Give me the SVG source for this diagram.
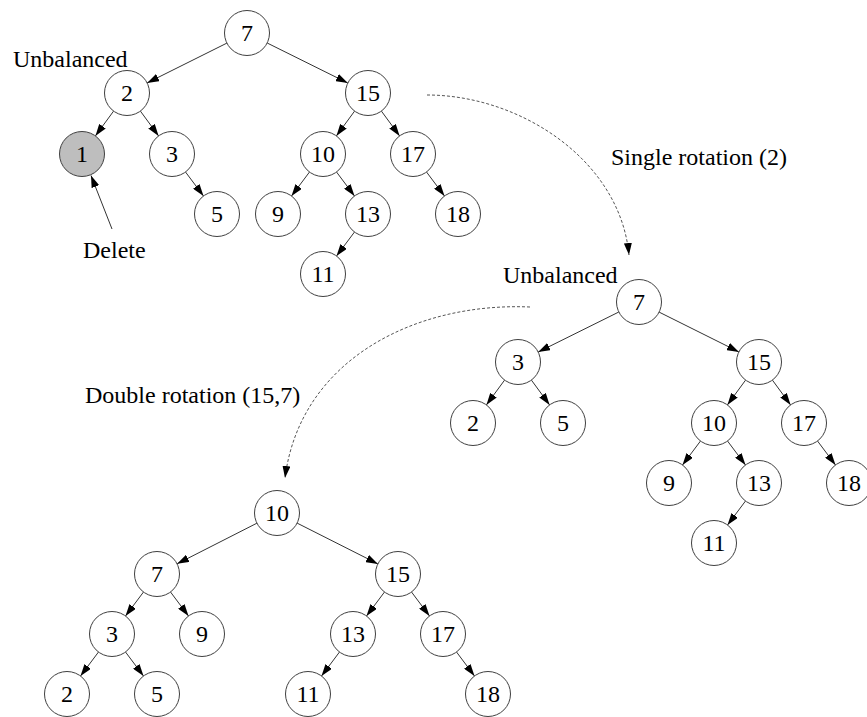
<svg xmlns="http://www.w3.org/2000/svg" width="867" height="717" viewBox="0 0 867 717">
<style>
.n circle{fill:#fff;stroke:#404040;stroke-width:1}
.n text,.lbl{font-family:"Liberation Serif","Times New Roman",serif;font-size:24px;fill:#000}
.n text{text-anchor:middle}
.e line,.e path{stroke:#333;stroke-width:1;fill:none}
.e line{marker-end:url(#ah)}
.e path.d{stroke:#555;stroke-dasharray:3,2;marker-end:url(#ah)}
</style>
<defs>
<marker id="ah" markerUnits="userSpaceOnUse" markerWidth="12" markerHeight="8" viewBox="0 0 12 8" refX="12" refY="4" orient="auto">
<path d="M0,0 L12,4 L0,8 z" fill="#000"/>
</marker>
</defs>
<rect width="867" height="717" fill="#fff"/>
<g id="connectors" class="e">
<line x1="226.9" y1="43.1" x2="147.1" y2="82.9"/>
<line x1="267.2" y1="43.0" x2="347.8" y2="83.0"/>
<line x1="113.6" y1="111.1" x2="95.4" y2="135.9"/>
<line x1="140.4" y1="111.1" x2="158.6" y2="135.9"/>
<line x1="185.5" y1="172" x2="203.5" y2="196"/>
<line x1="354.6" y1="111.1" x2="336.4" y2="135.9"/>
<line x1="381.4" y1="111.1" x2="399.6" y2="135.9"/>
<line x1="309.5" y1="172" x2="291.5" y2="196"/>
<line x1="336.5" y1="172" x2="354.5" y2="196"/>
<line x1="426.5" y1="172" x2="444.5" y2="196"/>
<line x1="354.5" y1="232" x2="336.5" y2="256"/>
<line x1="112" y1="229" x2="91" y2="175.5"/>
<line x1="618.8" y1="312.0" x2="538.2" y2="352.0"/>
<line x1="659.1" y1="312.1" x2="738.9" y2="351.9"/>
<line x1="504.6" y1="380.1" x2="486.4" y2="404.9"/>
<line x1="531.4" y1="380.1" x2="549.6" y2="404.9"/>
<line x1="745.6" y1="380.1" x2="727.4" y2="404.9"/>
<line x1="772.4" y1="380.1" x2="790.6" y2="404.9"/>
<line x1="700.5" y1="441" x2="682.5" y2="465"/>
<line x1="727.5" y1="441" x2="745.5" y2="465"/>
<line x1="817.5" y1="441" x2="835.5" y2="465"/>
<line x1="745.5" y1="501" x2="727.5" y2="525"/>
<line x1="256.9" y1="523.2" x2="177.1" y2="563.8"/>
<line x1="297.1" y1="523.1" x2="377.9" y2="563.9"/>
<line x1="143.5" y1="592" x2="125.5" y2="616"/>
<line x1="170.5" y1="592" x2="188.5" y2="616"/>
<line x1="98.5" y1="652" x2="80.5" y2="676"/>
<line x1="125.5" y1="652" x2="143.5" y2="676"/>
<line x1="384.5" y1="592" x2="366.5" y2="616"/>
<line x1="411.5" y1="592" x2="429.5" y2="616"/>
<line x1="339.5" y1="652" x2="321.5" y2="676"/>
<line x1="456.5" y1="652" x2="474.5" y2="676"/>
<path class="d" d="M427,95 C520,95 620,160 629,255"/>
<path class="d" d="M530,307 C415,302 300,360 285,478"/>
</g>
<g id="labels">
<text class="lbl" x="13" y="67">Unbalanced</text>
<text class="lbl" x="83" y="258">Delete</text>
<text class="lbl" x="611" y="165">Single rotation (2)</text>
<text class="lbl" x="503" y="283">Unbalanced</text>
<text class="lbl" x="85" y="403">Double rotation (15,7)</text>
</g>
<g id="tree1">
<g id="t1-7" class="n"><circle cx="247" cy="33" r="22.5"/><text x="247" y="41">7</text></g>
<g id="t1-2" class="n"><circle cx="127" cy="93" r="22.5"/><text x="127" y="101">2</text></g>
<g id="t1-15" class="n"><circle cx="368" cy="93" r="22.5"/><text x="368" y="101">15</text></g>
<g id="t1-1" class="n"><circle cx="82" cy="154" r="22.5" style="fill:#bebebe"/><text x="82" y="162">1</text></g>
<g id="t1-3" class="n"><circle cx="172" cy="154" r="22.5"/><text x="172" y="162">3</text></g>
<g id="t1-10" class="n"><circle cx="323" cy="154" r="22.5"/><text x="323" y="162">10</text></g>
<g id="t1-17" class="n"><circle cx="413" cy="154" r="22.5"/><text x="413" y="162">17</text></g>
<g id="t1-5" class="n"><circle cx="217" cy="214" r="22.5"/><text x="217" y="222">5</text></g>
<g id="t1-9" class="n"><circle cx="278" cy="214" r="22.5"/><text x="278" y="222">9</text></g>
<g id="t1-13" class="n"><circle cx="368" cy="214" r="22.5"/><text x="368" y="222">13</text></g>
<g id="t1-18" class="n"><circle cx="458" cy="214" r="22.5"/><text x="458" y="222">18</text></g>
<g id="t1-11" class="n"><circle cx="323" cy="274" r="22.5"/><text x="323" y="282">11</text></g>
</g>
<g id="tree2">
<g id="t2-7" class="n"><circle cx="639" cy="302" r="22.5"/><text x="639" y="310">7</text></g>
<g id="t2-3" class="n"><circle cx="518" cy="362" r="22.5"/><text x="518" y="370">3</text></g>
<g id="t2-15" class="n"><circle cx="759" cy="362" r="22.5"/><text x="759" y="370">15</text></g>
<g id="t2-2" class="n"><circle cx="473" cy="423" r="22.5"/><text x="473" y="431">2</text></g>
<g id="t2-5" class="n"><circle cx="563" cy="423" r="22.5"/><text x="563" y="431">5</text></g>
<g id="t2-10" class="n"><circle cx="714" cy="423" r="22.5"/><text x="714" y="431">10</text></g>
<g id="t2-17" class="n"><circle cx="804" cy="423" r="22.5"/><text x="804" y="431">17</text></g>
<g id="t2-9" class="n"><circle cx="669" cy="483" r="22.5"/><text x="669" y="491">9</text></g>
<g id="t2-13" class="n"><circle cx="759" cy="483" r="22.5"/><text x="759" y="491">13</text></g>
<g id="t2-18" class="n"><circle cx="849" cy="483" r="22.5"/><text x="849" y="491">18</text></g>
<g id="t2-11" class="n"><circle cx="714" cy="543" r="22.5"/><text x="714" y="551">11</text></g>
</g>
<g id="tree3">
<g id="t3-10" class="n"><circle cx="277" cy="513" r="22.5"/><text x="277" y="521">10</text></g>
<g id="t3-7" class="n"><circle cx="157" cy="574" r="22.5"/><text x="157" y="582">7</text></g>
<g id="t3-15" class="n"><circle cx="398" cy="574" r="22.5"/><text x="398" y="582">15</text></g>
<g id="t3-3" class="n"><circle cx="112" cy="634" r="22.5"/><text x="112" y="642">3</text></g>
<g id="t3-9" class="n"><circle cx="202" cy="634" r="22.5"/><text x="202" y="642">9</text></g>
<g id="t3-13" class="n"><circle cx="353" cy="634" r="22.5"/><text x="353" y="642">13</text></g>
<g id="t3-17" class="n"><circle cx="443" cy="634" r="22.5"/><text x="443" y="642">17</text></g>
<g id="t3-2" class="n"><circle cx="67" cy="694" r="22.5"/><text x="67" y="702">2</text></g>
<g id="t3-5" class="n"><circle cx="157" cy="694" r="22.5"/><text x="157" y="702">5</text></g>
<g id="t3-11" class="n"><circle cx="308" cy="694" r="22.5"/><text x="308" y="702">11</text></g>
<g id="t3-18" class="n"><circle cx="488" cy="694" r="22.5"/><text x="488" y="702">18</text></g>
</g>
</svg>
